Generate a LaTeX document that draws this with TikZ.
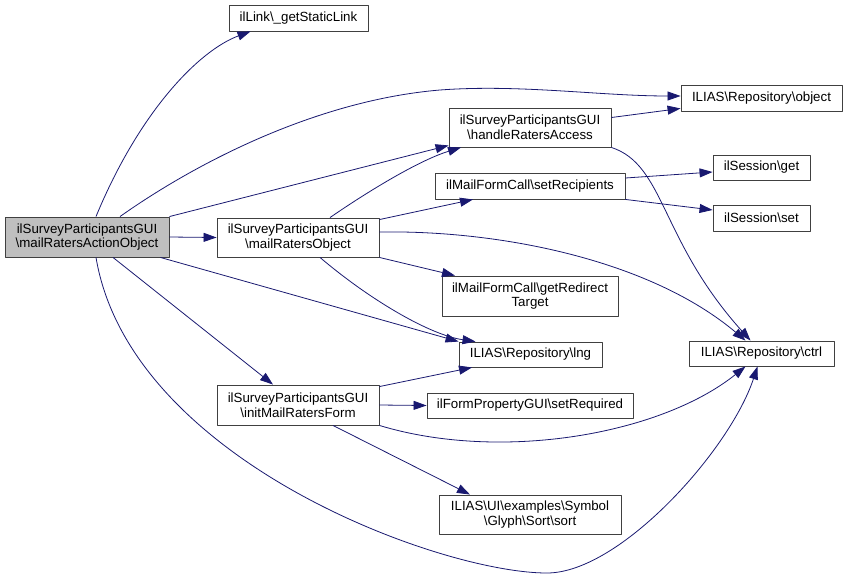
\documentclass[tikz,border=0pt]{standalone}
\usepackage{fontspec}
\setmainfont{Liberation Sans}
\usetikzlibrary{arrows.meta}
\definecolor{edgeblue}{RGB}{25,25,112}
\definecolor{boxgray}{RGB}{191,191,191}
\newcommand{\bsl}{\textbackslash}
\begin{document}
\begin{tikzpicture}[x=1pt,y=-1pt,>={Triangle[length=13pt,width=9pt]},line join=round,
	font=\fontsize{13.3}{14.6}\selectfont,
	box/.style={draw=black!75,line width=0.9pt,fill=white,align=center,inner sep=0pt},
	call/.style={->,draw=edgeblue,line width=0.8pt}]
	\useasboundingbox (0,0) rectangle (848,579);
	% callers
	\node[box,fill=boxgray,minimum width=164,minimum height=40] (actobj) at (87,237) {ilSurveyParticipantsGUI\\\bsl mailRatersActionObject};
	\node[box,minimum width=162,minimum height=39] (raterobj) at (298,237.5) {ilSurveyParticipantsGUI\\\bsl mailRatersObject};
	\node[box,minimum width=162,minimum height=40] (ratersform) at (298,405) {ilSurveyParticipantsGUI\\\bsl initMailRatersForm};
	\node[box,minimum width=139,minimum height=26] (statlink) at (298.5,18) {ilLink\bsl\_getStaticLink};
	% middle column
	\node[box,minimum width=162,minimum height=39] (access) at (530,127.5) {ilSurveyParticipantsGUI\\\bsl handleRatersAccess};
	\node[box,minimum width=190,minimum height=26] (setrec) at (530,186) {ilMailFormCall\bsl setRecipients};
	\node[box,minimum width=176,minimum height=40] (redirect) at (530,296) {ilMailFormCall\bsl getRedirect\\Target};
	\node[box,minimum width=143,minimum height=25] (replng) at (530.5,354.5) {ILIAS\bsl Repository\bsl lng};
	\node[box,minimum width=206,minimum height=25] (setreq) at (530,405.5) {ilFormPropertyGUI\bsl setRequired};
	\node[box,minimum width=182,minimum height=39] (sortglyph) at (530,514.5) {ILIAS\bsl UI\bsl examples\bsl Symbol\\\bsl Glyph\bsl Sort\bsl sort};
	% right column
	\node[box,minimum width=161,minimum height=26] (repobj) at (761.5,98) {ILIAS\bsl Repository\bsl object};
	\node[box,minimum width=97,minimum height=25] (sessget) at (761.5,167.5) {ilSession\bsl get};
	\node[box,minimum width=97,minimum height=26] (sessset) at (761.5,218) {ilSession\bsl set};
	\node[box,minimum width=145,minimum height=25] (repctrl) at (761.5,353.5) {ILIAS\bsl Repository\bsl ctrl};
	% calls of mailRatersActionObject
	\draw[call] ([xshift=9pt]actobj.north) .. controls (140,110) and (200,50) .. ([xshift=-48pt]statlink.south);
	\draw[call] ([xshift=33pt]actobj.north) .. controls (200,160) and (320,100) .. (440,90) .. controls (520,84) and (600,96) .. ([yshift=2pt]repobj.west);
	\draw[call] (actobj.north east) -- ([yshift=2pt]access.south west);
	\draw[call] (actobj.east) -- (raterobj.west);
	\draw[call] ([xshift=-9pt]actobj.south east) -- (replng.north west);
	\draw[call] ([xshift=26pt]actobj.south) -- ([xshift=-25pt]ratersform.north);
	\draw[call] ([xshift=9pt]actobj.south) .. controls (130,460) and (440,573) .. (547,573) .. controls (620,573) and (730,450) .. ([xshift=-4pt]repctrl.south);
	% calls of mailRatersObject
	\draw[call] ([xshift=32pt]raterobj.north) .. controls (370,190) and (420,160) .. ([xshift=-69pt]access.south);
	\draw[call] ([yshift=-2pt]raterobj.north east) -- ([xshift=-57pt]setrec.south);
	\draw[call] ([yshift=5.5pt]raterobj.east) .. controls (500,230) and (650,260) .. ([xshift=-16pt]repctrl.north);
	\draw[call] (raterobj.south east) -- ([xshift=-75pt]redirect.north);
	\draw[call] ([xshift=22pt]raterobj.south) .. controls (370,300) and (430,335) .. ([xshift=-55pt]replng.north);
	% calls of handleRatersAccess and setRecipients
	\draw[call] ([yshift=10pt]access.east) -- ([yshift=3pt]repobj.south west);
	\draw[call] (access.south east) .. controls (665,165) and (660,240) .. ([xshift=-11pt]repctrl.north);
	\draw[call] ([yshift=8pt]setrec.east) -- ([yshift=-4.5pt]sessget.west);
	\draw[call] (setrec.south east) -- ([yshift=8pt]sessset.west);
	% calls of initMailRatersForm
	\draw[call] ([yshift=-2pt]ratersform.north east) -- ([xshift=-58.5pt]replng.south);
	\draw[call] (ratersform.east) -- (setreq.west);
	\draw[call] (ratersform.south east) .. controls (500,462) and (660,435) .. ([xshift=-16pt]repctrl.south);
	\draw[call] ([xshift=35pt]ratersform.south) -- ([xshift=-60pt]sortglyph.north);
\end{tikzpicture}
\end{document}
